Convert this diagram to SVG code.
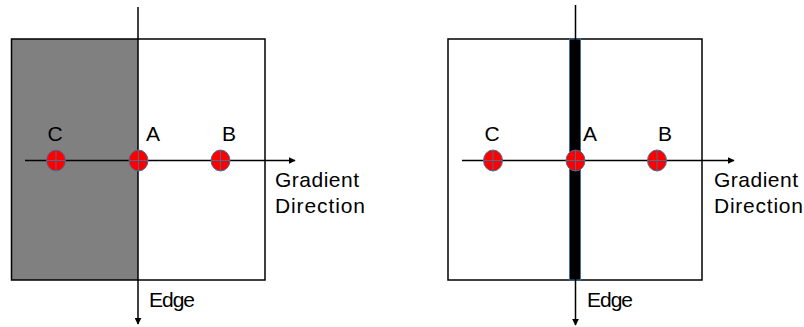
<svg xmlns="http://www.w3.org/2000/svg" width="804" height="327" viewBox="0 0 804 327">
<style>
.box{fill:none;stroke:#000;stroke-width:1.5}
.ax{stroke:#000;stroke-width:1.5;fill:none}
.pt ellipse{fill:#ff0000;stroke:#41719c;stroke-width:1}
.pt path{stroke:#4a6a90;stroke-width:1;fill:none}
text{font-family:"Liberation Sans",Arial,sans-serif;font-size:21px;fill:#000}
</style>
<defs>
<marker id="ah" viewBox="0 0 10 10" refX="9" refY="5" markerWidth="7" markerHeight="7" markerUnits="userSpaceOnUse" orient="auto">
<path d="M0,0 L10,5 L0,10 z" fill="#000"/>
</marker>
<g id="dot" class="pt">
<ellipse cx="0" cy="0" rx="9.5" ry="10.5"/>
<path d="M0,-10.5 V10.5 M-9.5,0 H9.5"/>
</g>
</defs>
<rect width="804" height="327" fill="#fff"/>
<g id="left-panel">
<rect x="11.5" y="39" width="126.5" height="241" fill="#808080"/>
<rect class="box" x="11.5" y="39" width="253.5" height="241"/>
</g>
<g id="right-panel">
<rect class="box" x="448" y="39" width="254" height="241"/>
<rect x="569.5" y="39" width="11" height="241" fill="#000" stroke="#41719c" stroke-width="1"/>
</g>
<g id="connectors">
<line class="ax" x1="138" y1="7" x2="138" y2="324" marker-end="url(#ah)"/>
<line class="ax" x1="25" y1="160.5" x2="295" y2="160.5" marker-end="url(#ah)"/>
<line class="ax" x1="575.5" y1="5" x2="575.5" y2="325" marker-end="url(#ah)"/>
<line class="ax" x1="462" y1="160.5" x2="734" y2="160.5" marker-end="url(#ah)"/>
</g>
<g id="points-left">
<use href="#dot" x="56" y="160.5"/>
<use href="#dot" x="138.5" y="160.5"/>
<use href="#dot" x="220.5" y="160.5"/>
</g>
<g id="points-right">
<use href="#dot" x="493" y="160.5"/>
<use href="#dot" x="575.5" y="160.5"/>
<use href="#dot" x="657" y="160.5"/>
</g>
<g id="labels-left">
<text x="55" y="141" text-anchor="middle">C</text>
<text x="153" y="141" text-anchor="middle">A</text>
<text x="229" y="141" text-anchor="middle">B</text>
<text x="275" y="187" textLength="84">Gradient</text>
<text x="275" y="213" textLength="90">Direction</text>
<text x="149" y="307" textLength="46">Edge</text>
</g>
<g id="labels-right">
<text x="492" y="141" text-anchor="middle">C</text>
<text x="590" y="141" text-anchor="middle">A</text>
<text x="665" y="141" text-anchor="middle">B</text>
<text x="714" y="187" textLength="84">Gradient</text>
<text x="714" y="213" textLength="89">Direction</text>
<text x="587" y="307" textLength="46">Edge</text>
</g>
</svg>
